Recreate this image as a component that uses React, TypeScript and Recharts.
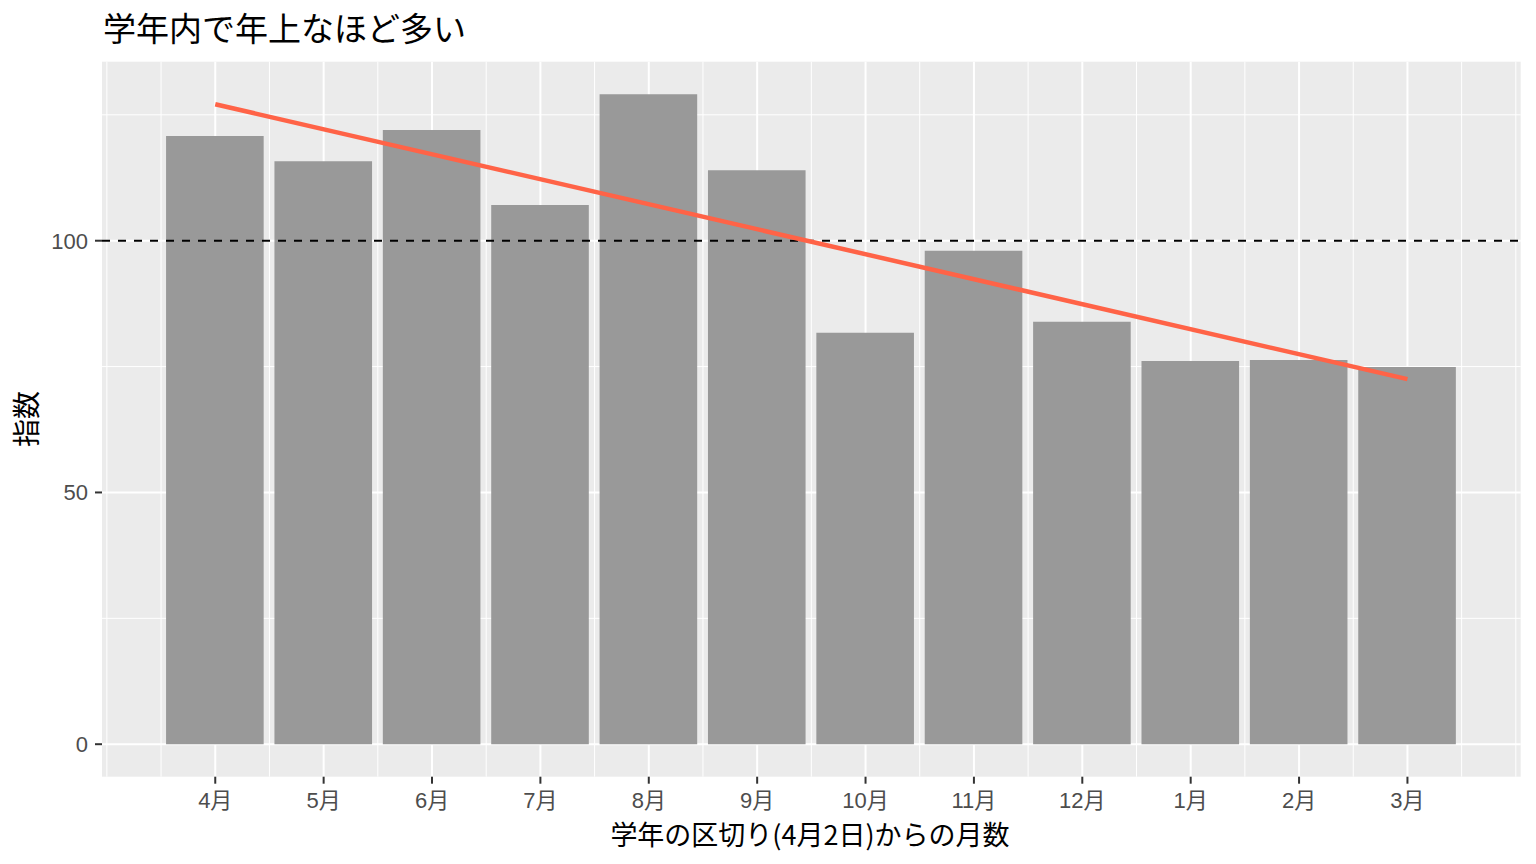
import React from 'react';
import {
  ComposedChart,
  Bar,
  XAxis,
  YAxis,
  CartesianGrid,
  ReferenceLine,
} from 'recharts';

// ---- data ----
const monthLabels = ['4月', '5月', '6月', '7月', '8月', '9月', '10月', '11月', '12月', '1月', '2月', '3月'];
const monthPositions = [1, 2, 3, 4, 5, 6, 7, 8, 9, 10, 11, 12];
const indexValues = [120.8, 115.8, 122.0, 107.1, 129.1, 114.0, 81.7, 98.0, 83.9, 76.1, 76.3, 74.9];
const trendStart = { x: 1, y: 127.1 };
const trendEnd = { x: 12, y: 72.5 };
const baselineValue = 100;

const yMajorTicks = [0, 50, 100];
const yMinorTicks = [25, 75, 125];
const xMinorTicks = [0, 0.5, 1.5, 2.5, 3.5, 4.5, 5.5, 6.5, 7.5, 8.5, 9.5, 10.5, 11.5, 12.5, 13];
const xDomain: [number, number] = [-0.045, 13.045];
const yDomain: [number, number] = [-6.455, 135.555];

const title = '学年内で年上なほど多い';
const xTitle = '学年の区切り(4月2日)からの月数';
const yTitle = '指数';

const chartData = monthPositions.map((x, i) => ({ x, label: monthLabels[i], value: indexValues[i] }));

const W = 1536;
const H = 864;
const CJK = "'Noto Sans CJK JP', 'Noto Sans CJK SC', sans-serif";
const LATIN = "'Liberation Sans', Arial, 'Noto Sans CJK JP', sans-serif";

export default function App() {
  return (
    <div style={{ position: 'absolute', left: 0, top: 0, width: W, height: H, background: '#ffffff', overflow: 'hidden' }}>
      <ComposedChart
        width={W}
        height={H}
        data={chartData}
        margin={{ top: 61.7, right: 15.3, bottom: 0, left: 0 }}
      >
        <CartesianGrid
          fill="#EBEBEB"
          fillOpacity={1}
          stroke="#FFFFFF"
          strokeWidth={1}
          horizontalValues={yMinorTicks}
          verticalValues={xMinorTicks}
        />
        <CartesianGrid
          stroke="#FFFFFF"
          strokeWidth={2}
          horizontalValues={yMajorTicks}
          verticalValues={monthPositions}
        />
        <XAxis
          dataKey="x"
          type="number"
          domain={xDomain}
          allowDataOverflow
          ticks={monthPositions}
          interval={0}
          tickFormatter={(v: number) => monthLabels[monthPositions.indexOf(v)] ?? ''}
          height={87.3}
          axisLine={false}
          tickSize={7}
          tickMargin={9}
          tickLine={{ stroke: '#333333', strokeWidth: 2 }}
          tick={{ fill: '#4D4D4D', fontSize: 22, fontFamily: LATIN }}
        />
        <YAxis
          type="number"
          domain={yDomain}
          allowDataOverflow
          ticks={yMajorTicks}
          interval={0}
          width={102}
          axisLine={false}
          tickSize={7}
          tickMargin={7}
          tickLine={{ stroke: '#333333', strokeWidth: 2 }}
          tick={{ fill: '#4D4D4D', fontSize: 22, fontFamily: LATIN }}
        />
        <Bar dataKey="value" fill="#999999" barSize={97.6} isAnimationActive={false} />
        <ReferenceLine
          y={baselineValue}
          stroke="#000000"
          strokeWidth={2}
          strokeDasharray="8 8"
          style={{ strokeWidth: 2 }}
        />
        <ReferenceLine
          segment={[trendStart, trendEnd]}
          stroke="#FF6347"
          strokeWidth={4.5}
          style={{ strokeWidth: 4.5 }}
        />
      </ComposedChart>
      <svg
        width={W}
        height={H}
        style={{ position: 'absolute', left: 0, top: 0, pointerEvents: 'none' }}
      >
        <text x={103} y={41} fontSize={33} fontFamily={CJK} fill="#000000">
          {title}
        </text>
        <text x={810} y={845} fontSize={27} fontFamily={CJK} fill="#000000" textAnchor="middle">
          {xTitle}
        </text>
        <text
          x={0}
          y={0}
          fontSize={28}
          fontFamily={CJK}
          fill="#000000"
          textAnchor="middle"
          transform="translate(37 419) rotate(-90)"
        >
          {yTitle}
        </text>
      </svg>
    </div>
  );
}
